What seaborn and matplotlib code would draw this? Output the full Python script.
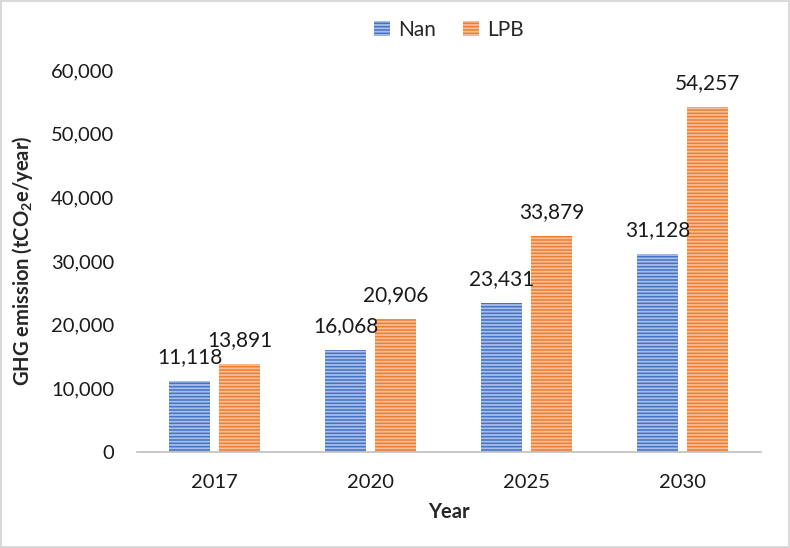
import pandas as pd
import matplotlib.pyplot as plt
import seaborn as sns
from matplotlib.ticker import FuncFormatter

# Chart data
years = ['2017', '2020', '2025', '2030']
nan_values = [11118, 16068, 23431, 31128]
lpb_values = [13891, 20906, 33879, 54257]
series_names = ['Nan', 'LPB']
series_colors = ['#4472C4', '#ED7D31']
stripe_colors = ['#A8BFEA', '#F7BE98']

df = pd.DataFrame({
    'Year': years * 2,
    'value': nan_values + lpb_values,
    'series': [series_names[0]] * len(years) + [series_names[1]] * len(years),
})

sns.set_style('white')
plt.rcParams['font.family'] = ['Lato', 'DejaVu Sans']
plt.rcParams['mathtext.fontset'] = 'custom'
plt.rcParams['mathtext.bf'] = 'Lato:bold'
plt.rcParams['mathtext.rm'] = 'Lato'
plt.rcParams['hatch.linewidth'] = 1.3

fig = plt.figure(figsize=(7.9, 5.48), dpi=100, edgecolor='#D9D9D9', linewidth=1.5)
ax = fig.add_axes([0.173, 0.175, 0.79, 0.697])

sns.barplot(data=df, x='Year', y='value', hue='series', hue_order=series_names,
            palette=series_colors, width=0.64, gap=0.18, ax=ax, legend=False)

for cont, fc, sc in zip(ax.containers, series_colors, stripe_colors):
    for bar in cont:
        bar.set_facecolor(fc)
        bar.set_edgecolor(sc)
        bar.set_linewidth(0)
        bar.set_hatch('-----')
    ax.bar_label(cont, labels=[f'{v:,.0f}' for v in cont.datavalues],
                 padding=10, fontsize=15, color='#1a1a1a')

ax.set_ylim(0, 60000)
ax.set_yticks(range(0, 60001, 10000))
ax.yaxis.set_major_formatter(FuncFormatter(lambda v, p: f'{v:,.0f}'))
ax.tick_params(axis='y', length=0, labelsize=14.5, colors='#1a1a1a', pad=16)
ax.tick_params(axis='x', length=0, labelsize=14.5, colors='#1a1a1a', pad=16)

ax.set_xlabel('Year', fontsize=14.5, fontweight='bold', labelpad=8)
ax.set_ylabel('GHG emission (tCO$\\mathbf{_2}$e/year)', fontsize=14.5,
              fontweight='bold', labelpad=12)

for side in ['top', 'right', 'left']:
    ax.spines[side].set_visible(False)
ax.spines['bottom'].set_color('#BFBFBF')
ax.spines['bottom'].set_linewidth(1.2)

ax.legend(ax.containers, series_names, loc='center', bbox_to_anchor=(0.5, 1.105),
          ncol=2, frameon=False, fontsize=15, handlelength=0.75, handleheight=0.75,
          handletextpad=0.4, columnspacing=1.3)

plt.savefig('out.png', dpi=100)
